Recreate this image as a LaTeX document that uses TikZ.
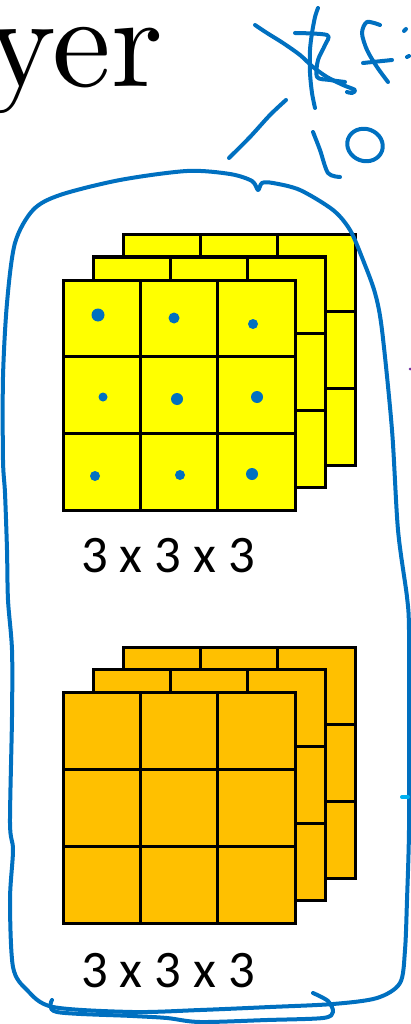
\documentclass[tikz,border=0pt]{standalone}
\usepackage{fontspec}
\newfontfamily\sizefont{Carlito}
\newfontfamily\titlefont{lmroman10-regular.otf}
\definecolor{pen}{HTML}{0070C0}
\definecolor{penlight}{HTML}{00B0F0}
\definecolor{penpurple}{HTML}{7030A0}
\definecolor{kernelyellow}{HTML}{FFFF00}
\definecolor{kernelorange}{HTML}{FFC000}
\begin{document}
\begin{tikzpicture}[x=0.025cm,y=-0.025cm,
		cellline/.style={draw=black,line width=0.075cm},
		ink/.style={draw=pen,line width=0.1cm,line cap=round,line join=round}]
		\useasboundingbox (0,0) rectangle (411,1024);
		\node[anchor=base west,inner sep=0pt,font=\titlefont\fontsize{94}{100}\selectfont] (title) at (-14,87) {yer};
		\foreach \dx/\dy in {60/-45,30/-23,0/0} {
			\begin{scope}[shift={(\dx,\dy)}]
				\filldraw[cellline,fill=kernelyellow] (63,280) rectangle (295,510);
				\foreach \k in {1,2} {
					\draw[cellline] (63+77.33*\k,280) -- (63+77.33*\k,510);
					\draw[cellline] (63,280+76.67*\k) -- (295,280+76.67*\k);
				}
				\filldraw[cellline,fill=kernelorange] (63,692) rectangle (295,923);
				\foreach \k in {1,2} {
					\draw[cellline] (63+77.33*\k,692) -- (63+77.33*\k,923);
					\draw[cellline] (63,692+77*\k) -- (295,692+77*\k);
				}
			\end{scope}
		}
		\foreach \px/\py/\r in {98/315/6.5,174/318/5.5,253/324/5,103/397/4.5,177/399/6,257/397/6,95/476/5,180/475/5,252/474/6}
			\fill[pen] (\px,\py) circle (\r);
		\node[anchor=base,inner sep=0pt,font=\sizefont\fontsize{37.5}{40}\selectfont] (sizetop) at (168,572) {3 x 3 x 3};
		\node[anchor=base,inner sep=0pt,font=\sizefont\fontsize{37.5}{40}\selectfont] (sizebottom) at (168,987) {3 x 3 x 3};
		\draw[ink] plot[smooth] coordinates {(255,25) (267,33) (283,43) (300,55) (313,67) (327,77) (343,85) (355,90) (352,93) (347,92)};
		\draw[ink] plot[smooth] coordinates {(318,8) (315,17) (312,33) (310,50) (310,73) (312,93) (315,108)};
		\draw[ink] plot[smooth] coordinates {(295,33) (327,35) (325,45) (318,60) (317,77) (330,80) (345,82)};
		\draw[ink] plot[smooth] coordinates {(380,25) (367,22) (362,33) (367,50) (377,67) (388,82)};
		\draw[ink] (363,63) -- (392,60);
		\draw[ink] (404,31) -- (406,29);
		\draw[ink] (407,57) -- (409,56);
		\draw[ink] plot[smooth] coordinates {(229,158) (250,137) (270,115) (286,100)};
		\draw[ink] plot[smooth] coordinates {(313,132) (320,150) (328,173) (340,177)};
		\draw[ink,rotate around={-20:(365,145)}] (365,145) ellipse [x radius=18,y radius=16];
		\draw[ink] plot[smooth cycle] coordinates {(7,303) (15,243) (33,210) (60,195) (120,180) (187,171) (230,174) (252,181) (258,190) (262,183) (273,183) (300,190) (333,210) (350,230) (363,260) (375,293) (382,330) (392,430) (398,530) (407,597) (409,630) (409,730) (409,830) (407,900) (405,950) (400,983) (377,998) (333,1004) (270,1007) (200,1010) (133,1012) (53,1007) (27,990) (13,967) (10,900) (13,850) (10,823) (12,717) (12,650) (8,600) (7,550) (5,493) (3,460) (3,377)};
		\draw[ink] plot[smooth] coordinates {(313,993) (328,1001) (333,1012) (323,1018) (267,1020) (200,1022) (167,1018) (133,1016) (57,1012) (52,1000)};
		\draw[draw=penlight,line width=0.1cm,line cap=round] (402,797) -- (408,797);
		\fill[penpurple] (410,369) circle (1.5);
	\end{tikzpicture}
\end{document}
